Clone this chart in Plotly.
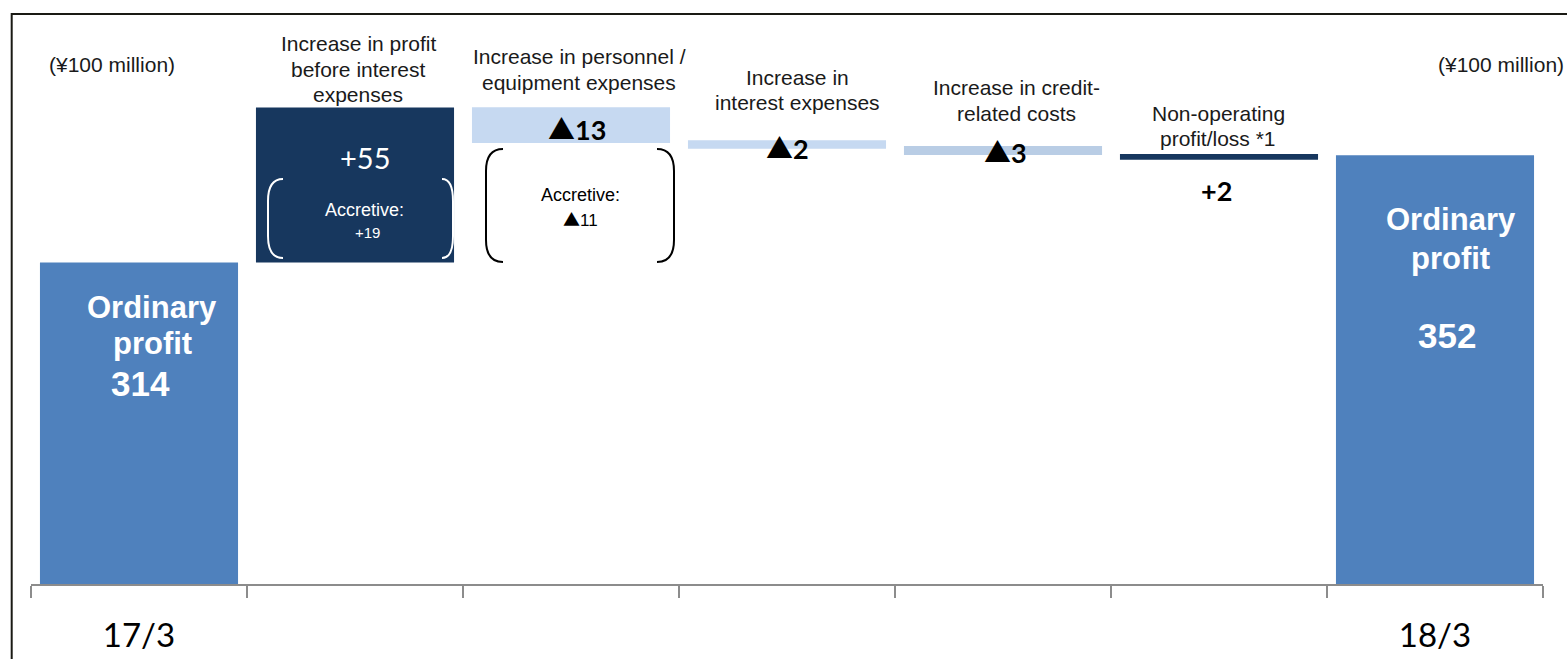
import plotly.graph_objects as go

# ---------------- data ----------------
categories = ["17/3", "Profit before interest", "Personnel/equipment",
              "Interest expenses", "Credit-related costs", "Non-operating", "18/3"]
tick_labels = ["17/3", "", "", "", "", "", "18/3"]
step_labels = ["314", "+55", "▲13", "▲2", "▲3", "+2", "352"]
bar_bottom = [0, 314, 356.4, 354.3, 352.1, 350.4, 0]
bar_top = [314, 369, 369.1, 357.4, 355.3, 352.5, 352]
bar_colors = ["#4F81BD", "#17375E", "#C6D9F1", "#C6D9F1", "#B9CDE5", "#17375E", "#4F81BD"]
header_lines = [
    [],
    ["Increase in profit", "before interest", "expenses"],
    ["Increase in personnel /", "equipment expenses"],
    ["Increase in", "interest expenses"],
    ["Increase in credit-", "related costs"],
    ["Non-operating", "profit/loss *1"],
    [],
]
accretive_labels = ["+19", "▲11"]
unit_label = "(¥100 million)"
total_title = ["Ordinary", "profit"]

heights = [t - b for t, b in zip(bar_top, bar_bottom)]

# ---------------- geometry ----------------
W, H = 1567, 659
ML, MR, MT, MB = 31, 24, 20, 75
PW, PH = W - ML - MR, H - MT - MB


def xp(px):
    return (px - ML) / PW


def yp(py):
    return (H - MB - py) / PH


ARIAL = "Liberation Sans, Arial, sans-serif"
CAL = "Lato, Carlito, sans-serif"
TRI = '<span style="font-family:Noto Sans CJK JP">▲</span>'

fig = go.Figure()
fig.add_trace(go.Bar(
    x=categories, y=heights, base=bar_bottom,
    marker=dict(color=bar_colors, line=dict(width=0)),
    width=0.917, hoverinfo="skip", showlegend=False,
))


def text(px, py, s, size, color="#1a1a1a", family=ARIAL):
    fig.add_annotation(x=xp(px), y=yp(py), xref="paper", yref="paper",
                       text=s.replace("▲", TRI), showarrow=False,
                       font=dict(size=size, color=color, family=family),
                       xanchor="center", yanchor="middle")


# unit labels
text(112, 64, unit_label, 21)
text(1501, 65, unit_label, 21)

# headers above steps
header_pos = {1: (358, 44), 2: (579, 57), 3: (797, 77), 4: (1016, 88), 5: (1218, 113)}
for i, (cx, y0) in header_pos.items():
    for k, line in enumerate(header_lines[i]):
        text(cx, y0 + 25 * k, line, 21)

# step values
text(365, 157, step_labels[1], 29, "white", CAL)
text(577, 128, "<b>" + step_labels[2] + "</b>", 27, "#000", CAL)
text(787, 147, "<b>" + step_labels[3] + "</b>", 27, "#000", CAL)
text(1005, 151, "<b>" + step_labels[4] + "</b>", 27, "#000", CAL)
text(1216, 190, "<b>" + step_labels[5] + "</b>", 27, "#000", CAL)

# accretive notes
text(364, 210, "Accretive:", 18, "white")
text(367, 232, accretive_labels[0], 15, "white")
text(580, 195, "Accretive:", 18, "#000")
text(580, 218, accretive_labels[1], 17, "#000")

# totals
text(152, 307, "<b>" + total_title[0] + "</b>", 31, "white")
text(152, 343, "<b>" + total_title[1] + "</b>", 31, "white")
text(140, 383, "<b>" + step_labels[0] + "</b>", 35, "white")
text(1451, 220, "<b>" + total_title[0] + "</b>", 31, "white")
text(1450, 258, "<b>" + total_title[1] + "</b>", 31, "white")
text(1447, 335, "<b>" + step_labels[6] + "</b>", 35, "white")


def bracket(outer, inner, top, bottom, color):
    r = 22
    d = (f"M {xp(inner)},{yp(top)} Q {xp(outer)},{yp(top)} {xp(outer)},{yp(top + r)} "
         f"L {xp(outer)},{yp(bottom - r)} Q {xp(outer)},{yp(bottom)} {xp(inner)},{yp(bottom)}")
    fig.add_shape(type="path", path=d, xref="paper", yref="paper",
                  line=dict(color=color, width=2))


bracket(268, 283, 179, 258, "white")
bracket(453, 442, 179, 258, "white")
bracket(486, 503, 149, 262, "#000")
bracket(674, 657, 149, 262, "#000")

# outer frame
fig.add_shape(type="rect", xref="paper", yref="paper",
              x0=xp(11.7), x1=xp(1620), y0=yp(14), y1=yp(720),
              line=dict(color="#1a1a14", width=2), fillcolor="rgba(0,0,0,0)")

fig.update_layout(
    width=W, height=H,
    margin=dict(l=ML, r=MR, t=MT, b=MB, pad=0, autoexpand=False),
    paper_bgcolor="white", plot_bgcolor="white",
    showlegend=False, bargap=0.083,
    xaxis=dict(type="category", range=[-0.5, 6.5], tickson="boundaries",
               tickmode="array", tickvals=categories, ticktext=tick_labels,
               ticks="outside", ticklen=12, tickwidth=1.5, tickcolor="#8c8c8c",
               showline=True, linecolor="#8c8c8c", linewidth=1.5,
               showgrid=False, zeroline=False, ticklabelstandoff=22,
               automargin=False,
               tickfont=dict(family=CAL, size=33, color="#000")),
    yaxis=dict(range=[200, 400], visible=False, showgrid=False, zeroline=False,
               automargin=False),
)

fig.write_html("out.html", config={"displayModeBar": False})
